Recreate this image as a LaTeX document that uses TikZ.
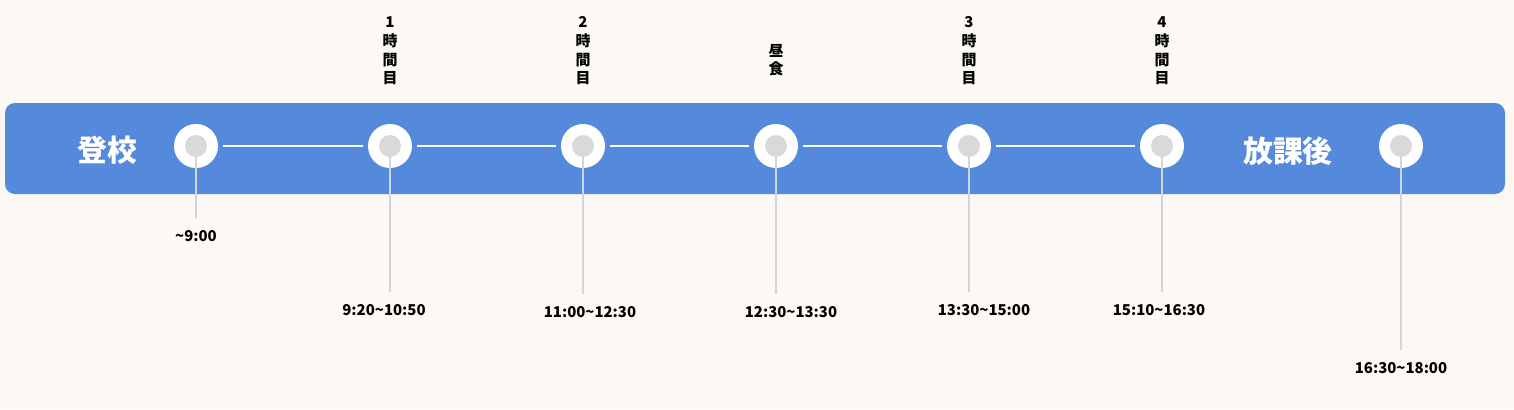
\documentclass[tikz,border=0pt]{standalone}
\usepackage{fontspec}
\setmainfont{Noto Sans CJK JP}
\usetikzlibrary{positioning,backgrounds}

\definecolor{paper}{HTML}{FCF9F5}
\definecolor{bandblue}{HTML}{5589DB}
\definecolor{dotgray}{HTML}{D9D9D9}
\definecolor{dropgray}{HTML}{D4D4D4}

\tikzset{
  stop/.style={circle, fill=white, minimum size=0.88cm, inner sep=0pt},
  link/.style={white, line width=0.7pt, shorten <=0.1cm, shorten >=0.1cm},
  drop/.style={dropgray, line width=0.6pt, shorten >=0.2cm},
  timelbl/.style={font=\bfseries\fontsize{8.5}{10}\selectfont, inner sep=1pt},
  periodlbl/.style={font=\bfseries\fontsize{8.5}{10.6}\selectfont, align=center, inner sep=0pt},
  bandlbl/.style={font=\bfseries\fontsize{17}{20}\selectfont, text=white}
}

\begin{document}
\begin{tikzpicture}[x=0.02cm, y=-0.02cm]

\useasboundingbox (0,0) rectangle (1514,409);
\fill[paper] (0,0) rectangle (1514,409);

% band
\fill[bandblue, rounded corners=0.2cm] (5,103) rectangle (1505,194);

\node[bandlbl] (arrive) at (107,150) {登校};
\node[bandlbl] (after) at (1288,151) {放課後};

% stops
\node[stop] (s1) at (196,146) {};
\node[stop] (s2) at (390,146) {};
\node[stop] (s3) at (583,146) {};
\node[stop] (s4) at (776,146) {};
\node[stop] (s5) at (969,146) {};
\node[stop] (s6) at (1162,146) {};
\node[stop] (s7) at (1401,146) {};

\draw[link] (s1) -- (s2);
\draw[link] (s2) -- (s3);
\draw[link] (s3) -- (s4);
\draw[link] (s4) -- (s5);
\draw[link] (s5) -- (s6);

% times
\node[timelbl] (t1) at (196,236) {\textasciitilde 9:00};
\node[timelbl] (t2) at (384,310) {9:20\textasciitilde 10:50};
\node[timelbl] (t3) at (590,312) {11:00\textasciitilde 12:30};
\node[timelbl] (t4) at (791,312) {12:30\textasciitilde 13:30};
\node[timelbl] (t5) at (984,310) {13:30\textasciitilde 15:00};
\node[timelbl] (t6) at (1159,310) {15:10\textasciitilde 16:30};
\node[timelbl] (t7) at (1401,368) {16:30\textasciitilde 18:00};

\draw[drop] (s1.center) -- (t1.north);
\draw[drop] (s2.center) -- (s2.center |- t2.north);
\draw[drop] (s3.center) -- (s3.center |- t3.north);
\draw[drop] (s4.center) -- (s4.center |- t4.north);
\draw[drop] (s5.center) -- (s5.center |- t5.north);
\draw[drop] (s6.center) -- (s6.center |- t6.north);
\draw[drop] (s7.center) -- (s7.center |- t7.north);

\fill[dotgray] (s1) circle (0.22cm);
\fill[dotgray] (s2) circle (0.22cm);
\fill[dotgray] (s3) circle (0.22cm);
\fill[dotgray] (s4) circle (0.22cm);
\fill[dotgray] (s5) circle (0.22cm);
\fill[dotgray] (s6) circle (0.22cm);
\fill[dotgray] (s7) circle (0.22cm);

% periods
\node[periodlbl] (p1) at (390,51) {1\\時\\間\\目};
\node[periodlbl] (p2) at (583,51) {2\\時\\間\\目};
\node[periodlbl] (p3) at (776,60) {昼\\食};
\node[periodlbl] (p4) at (969,51) {3\\時\\間\\目};
\node[periodlbl] (p5) at (1162,51) {4\\時\\間\\目};

\end{tikzpicture}
\end{document}
